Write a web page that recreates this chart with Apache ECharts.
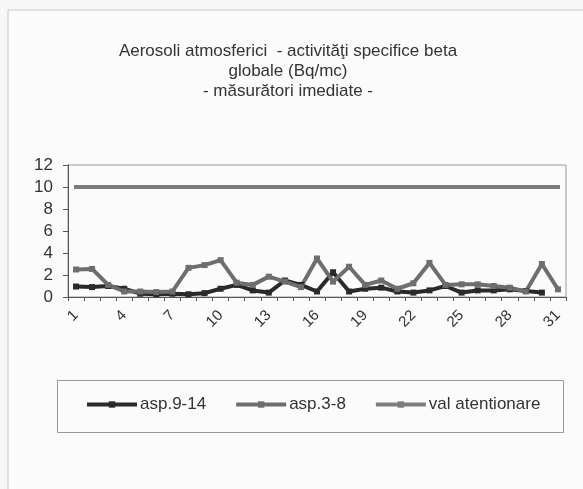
<!DOCTYPE html>
<html>
<head>
<meta charset="utf-8">
<script src="https://cdn.jsdelivr.net/npm/echarts@6/dist/echarts.min.js"></script>
<style>
  html, body { margin: 0; padding: 0; background: #f7f7f7; }
  #chart { width: 583px; height: 489px; }
</style>
</head>
<body>
<div id="chart"></div>
<script>
// zile 1..31
var days = [];
for (var d = 1; d <= 31; d++) days.push(String(d));

var asp914 = [0.95, 0.9, 1.0, 0.75, 0.3, 0.25, 0.3, 0.25, 0.35, 0.75,
  1.1, 0.6, 0.4, 1.5, 1.1, 0.5, 2.25, 0.5, 0.75, 0.85,
  0.5, 0.4, 0.6, 1.0, 0.4, 0.6, 0.6, 0.7, 0.55, 0.4, null];
var asp38 = [2.5, 2.55, 1.1, 0.5, 0.5, 0.45, 0.5, 2.65, 2.9, 3.35,
  1.3, 1.1, 1.85, 1.4, 0.9, 3.5, 1.4, 2.75, 1.1, 1.5,
  0.75, 1.25, 3.1, 1.1, 1.15, 1.15, 1.0, 0.85, 0.5, 3.0, 0.7];
var valAtentionare = [10, 10, 10, 10, 10, 10, 10, 10, 10, 10,
  10, 10, 10, 10, 10, 10, 10, 10, 10, 10,
  10, 10, 10, 10, 10, 10, 10, 10, 10, 10, 10];

var chart = echarts.init(document.getElementById('chart'));
var font = 'Liberation Sans, Arial, sans-serif';

chart.setOption({
  animation: false,
  backgroundColor: '#f7f7f7',
  textStyle: { fontFamily: font },
  graphic: [
    {
      type: 'rect',
      shape: { x: 8, y: 10, width: 600, height: 500 },
      style: { fill: '#fbfbfb', stroke: '#c8c8c8', lineWidth: 1 },
      silent: true,
      z: -10
    },
    {
      // chenarul legendei
      type: 'rect',
      shape: { x: 57.5, y: 380.5, width: 506, height: 52 },
      style: { fill: 'transparent', stroke: '#999', lineWidth: 1 },
      silent: true
    }
  ],
  title: {
    text: 'Aerosoli atmosferici  - activităţi specifice beta\nglobale (Bq/mc)\n- măsurători imediate -',
    left: 283,
    top: 36,
    textAlign: 'center',
    textStyle: { fontFamily: font, fontSize: 17, fontWeight: 'normal', color: '#333', lineHeight: 20 }
  },
  legend: {
    left: 80,
    top: 396,
    padding: [0, 0, 0, 5],
    itemGap: 28,
    itemWidth: 50,
    itemHeight: 8,
    lineStyle: { width: 4 },
    textStyle: { fontFamily: font, fontSize: 17, color: '#333', padding: [0, 0, 0, -2] },
    data: ['asp.9-14', 'asp.3-8', 'val atentionare']
  },
  grid: { left: 68, right: 17, top: 165, bottom: 192, show: true, borderColor: '#999', borderWidth: 1, backgroundColor: 'transparent' },
  xAxis: {
    type: 'category',
    data: days,
    boundaryGap: true,
    axisLine: { lineStyle: { color: '#555', width: 1 } },
    axisTick: { show: true, interval: 0, length: 4, lineStyle: { color: '#555' } },
    axisLabel: { interval: 2, rotate: 45, fontSize: 15, color: '#333', fontFamily: font, margin: 16 }
  },
  yAxis: {
    type: 'value',
    min: 0,
    max: 12,
    interval: 2,
    splitLine: { show: false },
    axisLine: { show: true, lineStyle: { color: '#555', width: 1 } },
    axisTick: { show: true, length: 5, lineStyle: { color: '#555' } },
    axisLabel: { fontSize: 17, color: '#333', fontFamily: font, margin: 15 }
  },
  series: [
    {
      name: 'asp.9-14', type: 'line', data: asp914,
      symbol: 'rect', symbolSize: 6,
      lineStyle: { color: '#2a2a2a', width: 4 },
      itemStyle: { color: '#2a2a2a' }
    },
    {
      name: 'asp.3-8', type: 'line', data: asp38,
      symbol: 'rect', symbolSize: 6,
      lineStyle: { color: '#6e6e6e', width: 4 },
      itemStyle: { color: '#6e6e6e' }
    },
    {
      name: 'val atentionare', type: 'line', data: valAtentionare,
      symbol: 'rect', symbolSize: 4,
      lineStyle: { color: '#7c7c7c', width: 4 },
      itemStyle: { color: '#7c7c7c' }
    }
  ]
});
</script>
</body>
</html>
